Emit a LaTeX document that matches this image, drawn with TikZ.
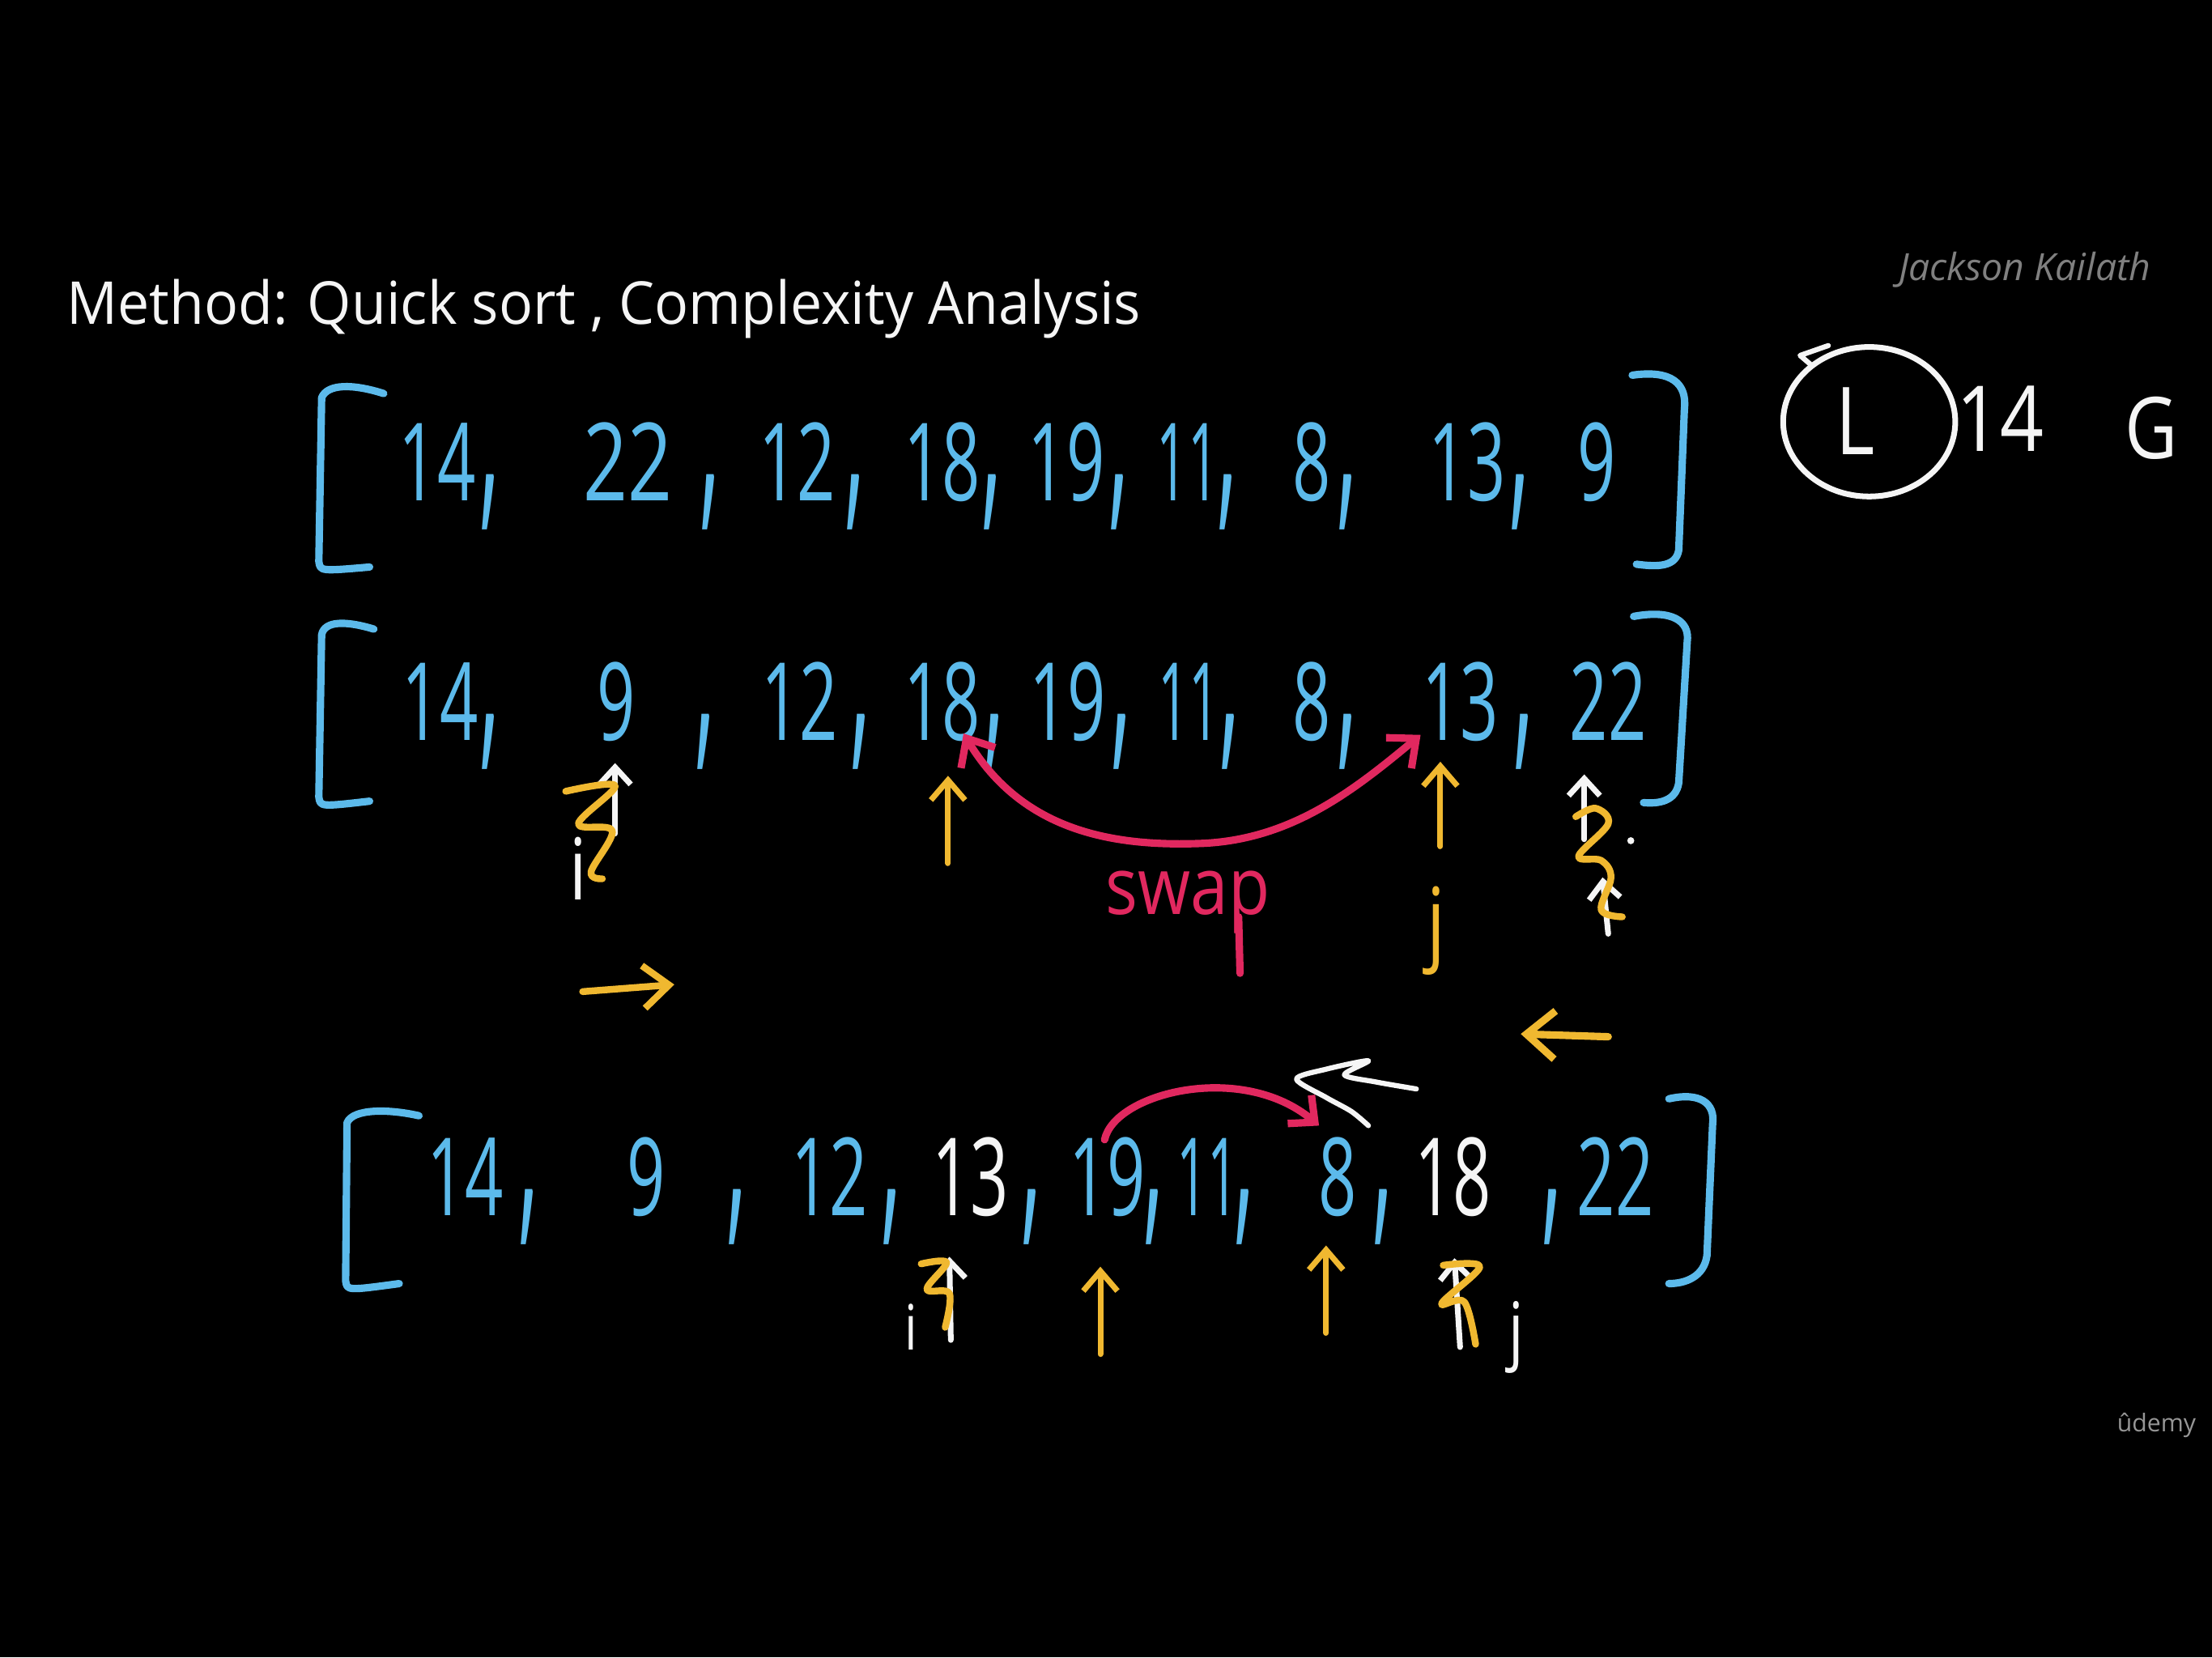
\documentclass[tikz,border=0pt]{standalone}
\usepackage{fontspec}
\setmainfont{Open Sans}
\usetikzlibrary{arrows.meta}
\definecolor{cblue}{RGB}{92,186,235}
\definecolor{cyel}{RGB}{240,184,48}
\definecolor{cpink}{RGB}{225,40,95}
\definecolor{cwhite}{RGB}{245,245,245}
\definecolor{cgrey}{RGB}{128,128,128}
\definecolor{cgreyb}{RGB}{150,150,150}
\begin{document}
\begin{tikzpicture}[x=0.017423cm,y=-0.017423cm,
  hand/.style={inner sep=0pt,anchor=base,font=\fontsize{38}{38}\selectfont},
  cma/.style={inner sep=0pt,anchor=base,font=\fontsize{36}{36}\selectfont,yscale=2.2,xscale=0.8},
  bluet/.style={text=cblue},
  whitet/.style={text=cwhite},
  brk/.style={draw=cblue,line width=2.6pt,line cap=round,line join=round},
  yarr/.style={draw=cyel,line width=2pt,line cap=round,-{Straight Barb[length=7pt,width=12pt]}},
  warr/.style={draw=cwhite,line width=2pt,line cap=round,-{Straight Barb[length=6pt,width=11pt]}},
  yscrib/.style={draw=cyel,line width=2.4pt,line cap=round,line join=round},
  wline/.style={draw=cwhite,line width=1.8pt,line cap=round,line join=round},
  pinkl/.style={draw=cpink,line width=2.6pt,line cap=round},
]
\fill[black] (0,0) rectangle (1568,1175);
\useasboundingbox (0,0) rectangle (1568,1175);

% title and credits
\node[inner sep=0pt,anchor=base west,text=cwhite,font=\fontsize{20.8}{25}\selectfont,xscale=0.955] (title) at (47,230) {Method: Quick sort , Complexity Analysis};
\node[inner sep=0pt,anchor=base east,text=cgrey,font=\fontsize{13.2}{15}\selectfont\itshape] (author) at (1525,199) {Jackson Kailath};
\node[inner sep=0pt,anchor=base east,text=cgreyb,font=\fontsize{8.6}{10}\selectfont] (udemy) at (1557,1015) {ûdemy};

% top right: circled L, 14, G
\draw[cwhite,line width=2pt] (1325,299) ellipse [x radius=61, y radius=53];
\draw[wline] (1296,245) -- (1276,252) -- (1283,258);
\node[hand,whitet,font=\fontsize{33}{33}\selectfont,xscale=0.8] (L) at (1315,322) {L};
\node[hand,whitet,font=\fontsize{32}{32}\selectfont,xscale=0.84] (fourteen) at (1418,320) {14};
\node[hand,whitet,font=\fontsize{30}{30}\selectfont,xscale=0.85] (G) at (1525,325) {G};

% ---------------- row 1 ----------------
\draw[brk] (272,279) .. controls (250,272) and (232,272) .. (228,282) -- (226,398) .. controls (227,405) .. (262,402);
\draw[brk] (1157,266) .. controls (1185,262) and (1196,272) .. (1194,290) -- (1190,390) .. controls (1188,402) and (1175,402) .. (1160,400);
\foreach \v/\x/\s [count=\k] in {14/310/0.62,22/445/0.72,12/565/0.62,18/668/0.62,19/756/0.62,11/842/0.5,8/930/0.62,13/1040/0.62,9/1132/0.62}
  \node[hand,bluet,xscale=\s] (ra\k) at (\x,355) {\v};
\foreach \x [count=\k] in {347,503,606,703,793,870,955,1077}
  \node[cma,bluet] (rac\k) at (\x,355) {,};

% ---------------- row 2 ----------------
\draw[brk] (265,446) .. controls (245,440) and (230,440) .. (228,450) -- (226,565) .. controls (227,572) .. (262,568);
\draw[brk] (1158,437) .. controls (1185,432) and (1198,440) .. (1196,455) -- (1190,555) .. controls (1188,568) and (1176,570) .. (1165,569);
\foreach \v/\x/\s [count=\k] in {14/312/0.62,9/437/0.62,12/567/0.62,18/668/0.62,19/757/0.62,11/843/0.5,8/930/0.62,13/1035/0.62,22/1140/0.62}
  \node[hand,bluet,xscale=\s] (rb\k) at (\x,525) {\v};
\foreach \x [count=\k] in {347,500,610,705,795,872,955,1080}
  \node[cma,bluet] (rbc\k) at (\x,525) {,};

% pointer i (left)
\draw[warr] (436,591) -- (436,541);
\draw[yscrib] plot[smooth,tension=0.6] coordinates {(401,561) (436,557) (410,584) (434,589) (419,618) (427,623)};
\node[hand,whitet,font=\fontsize{30}{30}\selectfont,xscale=0.8] (ia) at (410,638) {i};
% yellow arrow at 18
\coordinate (ya1) at (672,612);
\coordinate (ya1t) at (672,550);
\draw[yarr] (ya1) -- (ya1t);
% swap arrow
\coordinate (sw1) at (683,520);
\coordinate (sw2) at (1007,521);
\draw[pinkl,{Straight Barb[length=8pt,width=14pt]}-{Straight Barb[length=8pt,width=14pt]}] (sw1) .. controls (725,590) and (790,600) .. (850,598) .. controls (915,596) and (960,560) .. (sw2);
\node[inner sep=0pt,anchor=base,text=cpink,font=\fontsize{28}{28}\selectfont,xscale=0.85] (swap) at (842,648) {swap};
\draw[pinkl] (878,650) -- (879,690);
% pointer j
\coordinate (ya2) at (1021,600);
\coordinate (ya2t) at (1021,540);
\draw[yarr] (ya2) -- (ya2t);
\node[hand,text=cyel,font=\fontsize{32}{32}\selectfont,xscale=0.8] (ja) at (1018,676) {j};
% pointer at 22 (right)
\draw[warr] (1123,595) -- (1123,549);
\draw[warr] (1140,662) -- (1136,622);
\draw[yscrib] plot[smooth,tension=0.6] coordinates {(1117,579) (1131,573) (1140,584) (1119,607) (1135,610) (1142,622) (1135,645) (1150,650)};
\fill[cwhite] (1156,596) circle (2.5);
% direction arrows
\coordinate (da1) at (413,703);
\coordinate (da1t) at (478,698);
\draw[yarr,line width=2.4pt,-{Straight Barb[length=9pt,width=15pt]}] (da1) -- (da1t);
\coordinate (da2) at (1140,735);
\coordinate (da2t) at (1078,733);
\draw[yarr,line width=2.6pt,-{Straight Barb[length=10pt,width=17pt]}] (da2) -- (da2t);

% ---------------- row 3 ----------------
\draw[brk] (297,791) .. controls (275,786) and (250,786) .. (246,796) -- (245,908) .. controls (246,915) .. (283,910);
\draw[brk] (1183,779) .. controls (1205,774) and (1216,782) .. (1214,797) -- (1210,890) .. controls (1208,905) and (1195,910) .. (1183,910);
\foreach \v/\x/\t/\s [count=\k] in {14/330/bluet/0.62,9/458/bluet/0.62,12/588/bluet/0.62,13/688/whitet/0.62,19/785/bluet/0.62,11/856/bluet/0.5,8/948/bluet/0.62,18/1030/whitet/0.62,22/1145/bluet/0.62}
  \node[hand,\t,xscale=\s] (rc\k) at (\x,862) {\v};
\foreach \x [count=\k] in {375,522,632,731,818,882,980,1100}
  \node[cma,bluet] (rcc\k) at (\x,862) {,};

% pink arc and white scribble
\coordinate (pa1) at (783,808);
\coordinate (pa2) at (935,798);
\draw[pinkl,-{Straight Barb[length=7pt,width=13pt]}] (pa1) .. controls (790,775) and (880,752) .. (pa2);
\draw[wline] plot[smooth,tension=0.5] coordinates {(1004,772) (975,767) (953,762) (970,752) (940,758) (919,765) (940,778) (958,788) (970,798)};

% pointer i (row 3)
\draw[warr] (674,950) -- (673,891);
\draw[yscrib] plot[smooth,tension=0.6] coordinates {(653,896) (671,895) (657,914) (673,917) (670,941)};
\node[hand,whitet,font=\fontsize{22}{22}\selectfont,xscale=0.8] (ib) at (646,957) {i};
% yellow arrows row 3
\coordinate (yb1) at (780,960);
\coordinate (yb1t) at (780,898);
\draw[yarr] (yb1) -- (yb1t);
\coordinate (yb2) at (940,945);
\coordinate (yb2t) at (940,883);
\draw[yarr] (yb2) -- (yb2t);
% pointer j (row 3)
\draw[warr] (1035,955) -- (1031,892);
\draw[yscrib] plot[smooth,tension=0.6] coordinates {(1023,897) (1049,898) (1022,924) (1038,923) (1046,953)};
\node[hand,whitet,font=\fontsize{26}{26}\selectfont,xscale=0.8] (jb) at (1075,961) {j};
\end{tikzpicture}
\end{document}
